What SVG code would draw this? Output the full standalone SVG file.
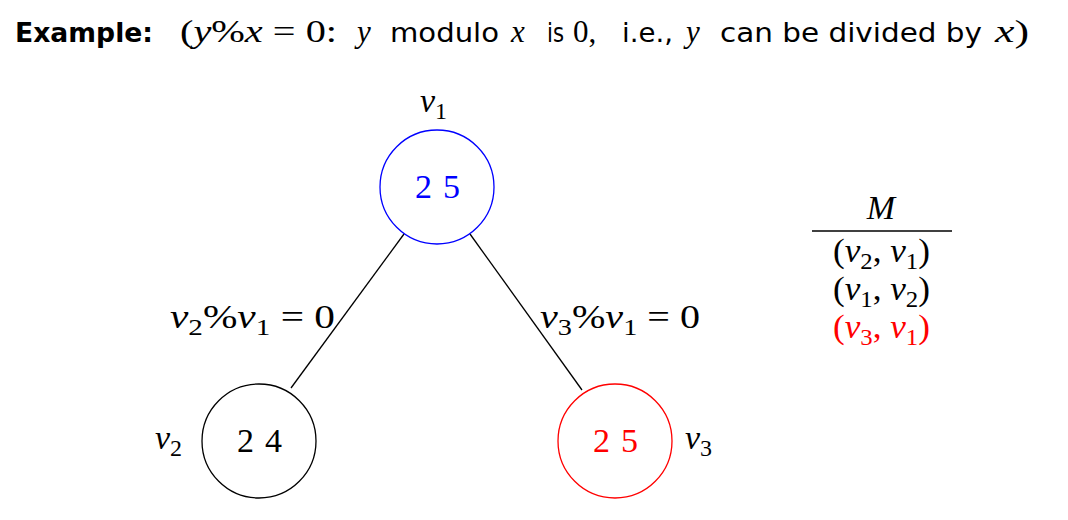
<svg xmlns="http://www.w3.org/2000/svg" width="1068" height="520" viewBox="0 0 1068 520">
<style>
.sans{font-family:"DejaVu Sans","Liberation Sans",sans-serif;font-size:26px;fill:#000}
.bold{font-family:"DejaVu Sans","Liberation Sans",sans-serif;font-size:27px;font-weight:bold;fill:#000}
.t{font-family:"Liberation Serif","DejaVu Serif",serif;font-size:31px;fill:#000}
.m{font-family:"Liberation Serif","DejaVu Serif",serif;font-size:34px;fill:#000}
.i{font-style:italic}
.sub{font-size:24px;font-style:normal}
.node{fill:#fff;stroke-width:1.3}
.edge{stroke:#000;stroke-width:1.3;fill:none}
</style>
<rect width="1068" height="520" fill="#fff"/>
<g id="title">
<text x="15" y="42" class="bold" textLength="138" lengthAdjust="spacingAndGlyphs">Example:</text>
<text x="180" y="42" class="t" textLength="157" lengthAdjust="spacingAndGlyphs">(<tspan class="i">y</tspan>%<tspan class="i">x</tspan> = 0:</text>
<text x="357" y="42" class="t i">y</text>
<text x="390" y="42" class="sans" textLength="109" lengthAdjust="spacingAndGlyphs">modulo</text>
<text x="511" y="42" class="t i">x</text>
<text x="547" y="42" class="sans" textLength="17" lengthAdjust="spacingAndGlyphs">is</text>
<text x="573" y="42" class="t">0,</text>
<text x="622" y="42" class="sans" textLength="51" lengthAdjust="spacingAndGlyphs">i.e.,</text>
<text x="686" y="42" class="t i">y</text>
<text x="720" y="42" class="sans" textLength="262" lengthAdjust="spacingAndGlyphs">can be divided by</text>
<text x="995" y="42" class="t" textLength="34" lengthAdjust="spacingAndGlyphs"><tspan class="i">x</tspan>)</text>
</g>
<g id="connectors">
<line class="edge" x1="404" y1="234" x2="291" y2="388"/>
<line class="edge" x1="470" y1="234" x2="582" y2="390"/>
<text x="170" y="328" class="m i" textLength="165" lengthAdjust="spacingAndGlyphs">v<tspan class="sub" dy="7">2</tspan><tspan dy="-7" font-style="normal">%</tspan>v<tspan class="sub" dy="7">1</tspan><tspan dy="-7" font-style="normal"> = 0</tspan></text>
<text x="540" y="328" class="m i" textLength="160" lengthAdjust="spacingAndGlyphs">v<tspan class="sub" dy="7">3</tspan><tspan dy="-7" font-style="normal">%</tspan>v<tspan class="sub" dy="7">1</tspan><tspan dy="-7" font-style="normal"> = 0</tspan></text>
</g>
<g id="v1">
<circle class="node" cx="437" cy="187" r="57" stroke="#00f"/>
<text x="415" y="198" class="m" textLength="45" lengthAdjust="spacing" style="fill:#00f">2 5</text>
<text x="420" y="112" class="m i">v<tspan class="sub" dy="7">1</tspan></text>
</g>
<g id="v2">
<circle class="node" cx="259" cy="441" r="57" stroke="#000"/>
<text x="237" y="452" class="m" textLength="45" lengthAdjust="spacing">2 4</text>
<text x="155" y="449" class="m i">v<tspan class="sub" dy="7">2</tspan></text>
</g>
<g id="v3">
<circle class="node" cx="615" cy="441" r="57" stroke="#f00"/>
<text x="593" y="452" class="m" textLength="45" lengthAdjust="spacing" style="fill:#f00">2 5</text>
<text x="685" y="449" class="m i">v<tspan class="sub" dy="7">3</tspan></text>
</g>
<g id="M">
<text x="881" y="219" class="m i" text-anchor="middle">M</text>
<line x1="812" y1="231" x2="952" y2="231" stroke="#000" stroke-width="1.3"/>
<text x="833" y="262" class="m" textLength="97" lengthAdjust="spacingAndGlyphs">(<tspan class="i">v</tspan><tspan class="sub" dy="7">2</tspan><tspan dy="-7">, </tspan><tspan class="i">v</tspan><tspan class="sub" dy="7">1</tspan><tspan dy="-7">)</tspan></text>
<text x="833" y="300" class="m" textLength="97" lengthAdjust="spacingAndGlyphs">(<tspan class="i">v</tspan><tspan class="sub" dy="7">1</tspan><tspan dy="-7">, </tspan><tspan class="i">v</tspan><tspan class="sub" dy="7">2</tspan><tspan dy="-7">)</tspan></text>
<text x="833" y="338" class="m" textLength="97" lengthAdjust="spacingAndGlyphs" style="fill:#f00">(<tspan class="i">v</tspan><tspan class="sub" dy="7">3</tspan><tspan dy="-7">, </tspan><tspan class="i">v</tspan><tspan class="sub" dy="7">1</tspan><tspan dy="-7">)</tspan></text>
</g>
</svg>
